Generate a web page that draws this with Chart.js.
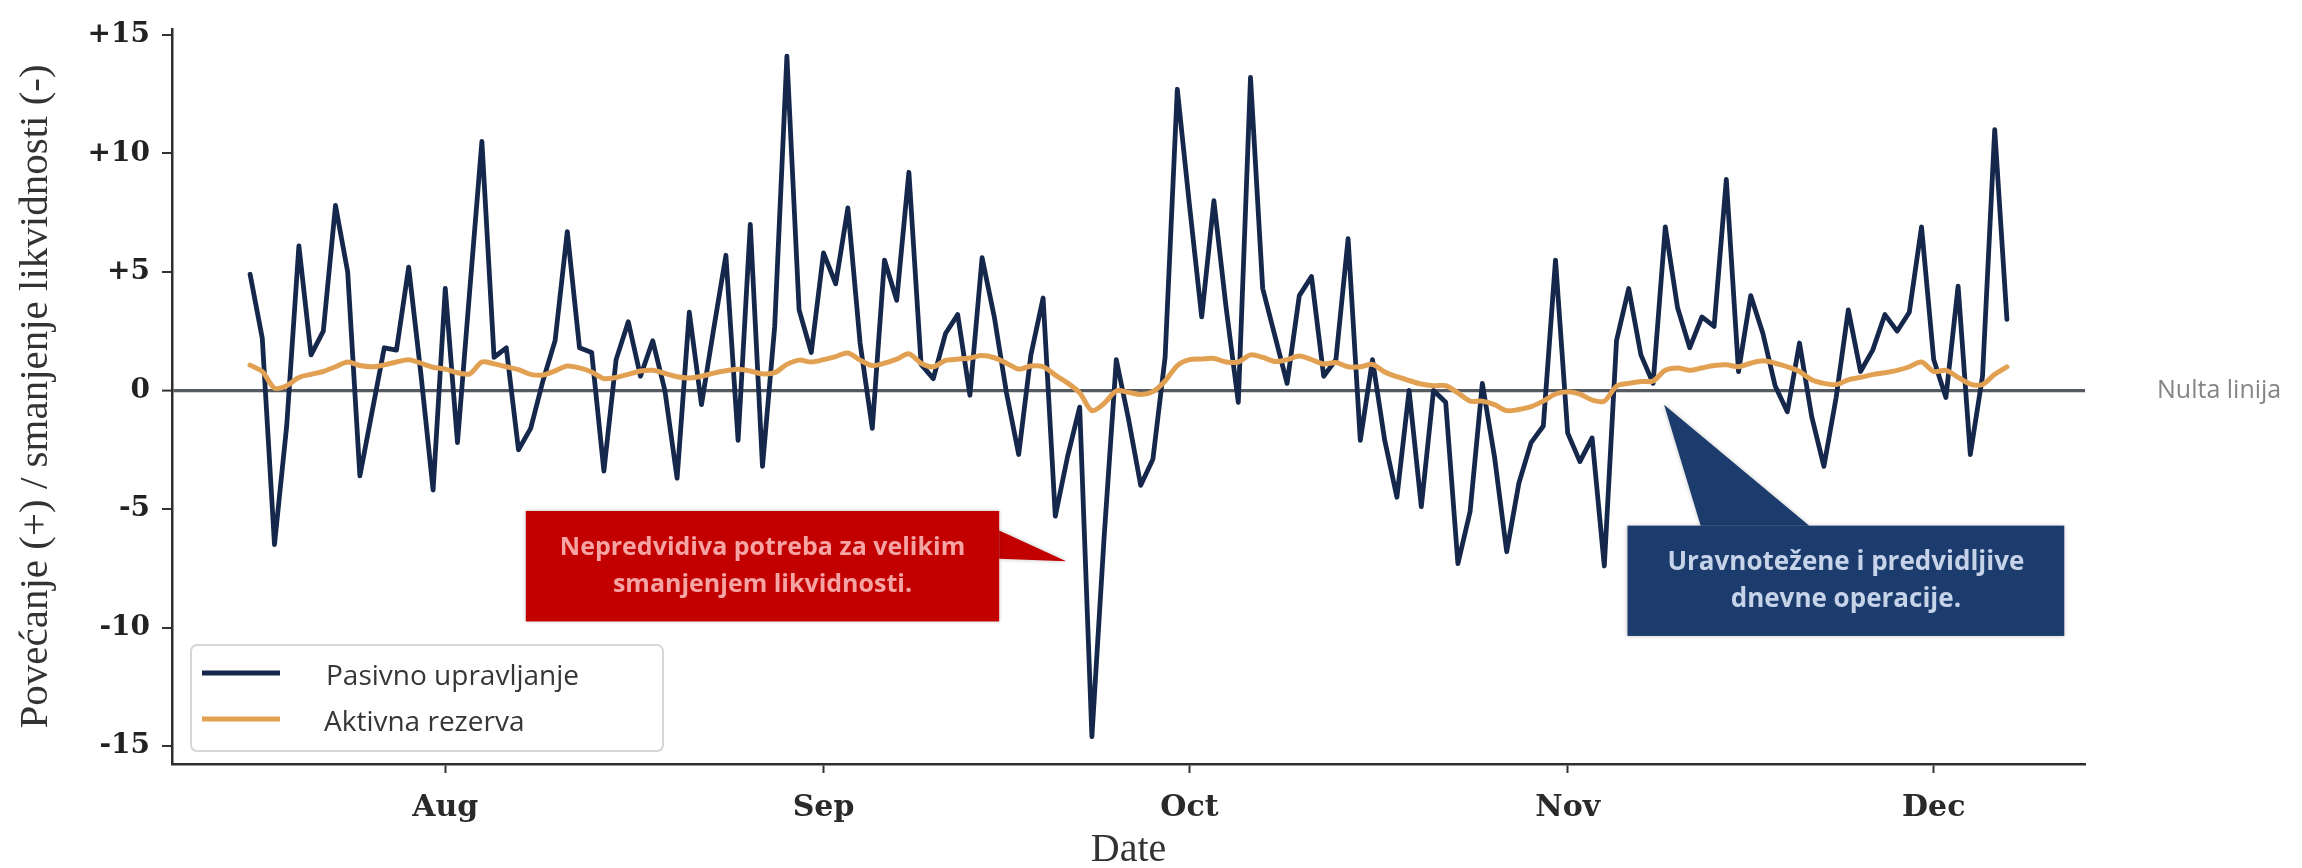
<!DOCTYPE html>
<html>
<head>
<meta charset="utf-8">
<script src="https://cdn.jsdelivr.net/npm/chart.js@4.4.1/dist/chart.umd.min.js"></script>
<style>
    html, body { margin: 0; padding: 0; background: #fff; }
    #wrap { width: 2302px; height: 868px; position: relative; }
</style>
</head>
<body>
<div id="wrap"><canvas id="liquidityChart" width="2302" height="868"></canvas></div>
<script>
// Prvi dan serije: 16. jul (broj dana od 1. jula)
const firstDay = 15;
const monthTicks = [31, 62, 92, 123, 153];
const monthLabels = ['Aug', 'Sep', 'Oct', 'Nov', 'Dec'];
const yTicks = [-15, -10, -5, 0, 5, 10, 15];

// Dnevne promjene likvidnosti
const pasivno = [
    4.9, 2.2, -6.5, -1.5, 6.1, 1.5, 2.5, 7.8, 5.0, -3.6,
    -0.9, 1.8, 1.7, 5.2, 0.7, -4.2, 4.3, -2.2, 4.2, 10.5,
    1.4, 1.8, -2.5, -1.6, 0.4, 2.1, 6.7, 1.8, 1.6, -3.4,
    1.3, 2.9, 0.6, 2.1, 0.0, -3.7, 3.3, -0.6, 2.6, 5.7,
    -2.1, 7.0, -3.2, 2.7, 14.1, 3.4, 1.6, 5.8, 4.5, 7.7,
    2.0, -1.6, 5.5, 3.8, 9.2, 1.1, 0.5, 2.4, 3.2, -0.2,
    5.6, 3.1, -0.1, -2.7, 1.5, 3.9, -5.3, -2.8, -0.7, -14.6,
    -6.2, 1.3, -1.2, -4.0, -2.9, 1.4, 12.7, 7.8, 3.1, 8.0,
    3.5, -0.5, 13.2, 4.3, 2.3, 0.3, 4.0, 4.8, 0.6, 1.3,
    6.4, -2.1, 1.3, -2.1, -4.5, 0.0, -4.9, 0.0, -0.5, -7.3,
    -5.1, 0.3, -2.8, -6.8, -3.9, -2.2, -1.5, 5.5, -1.8, -3.0,
    -2.0, -7.4, 2.1, 4.3, 1.5, 0.3, 6.9, 3.5, 1.8, 3.1,
    2.7, 8.9, 0.8, 4.0, 2.4, 0.2, -0.9, 2.0, -1.1, -3.2,
    -0.3, 3.4, 0.8, 1.7, 3.2, 2.5, 3.3, 6.9, 1.3, -0.3,
    4.4, -2.7, 0.6, 11.0, 3.0
];

const aktivna = [
    1.07, 0.8, 0.1, 0.2, 0.55, 0.68, 0.8, 1.0, 1.2, 1.05,
    1.0, 1.08, 1.2, 1.3, 1.15, 0.98, 0.9, 0.75, 0.7, 1.2,
    1.12, 1.0, 0.88, 0.68, 0.65, 0.83, 1.03, 0.95, 0.78, 0.5,
    0.55, 0.68, 0.82, 0.85, 0.72, 0.58, 0.53, 0.6, 0.73, 0.83,
    0.9, 0.82, 0.7, 0.75, 1.1, 1.28, 1.2, 1.3, 1.43, 1.58,
    1.28, 1.05, 1.15, 1.32, 1.55, 1.15, 1.0, 1.27, 1.32, 1.37,
    1.47, 1.38, 1.15, 0.9, 1.03, 1.0, 0.65, 0.32, -0.1, -0.85,
    -0.55, -0.02, -0.08, -0.17, -0.05, 0.4, 1.05, 1.3, 1.33, 1.35,
    1.2, 1.2, 1.5, 1.4, 1.22, 1.3, 1.45, 1.3, 1.12, 1.18,
    1.0, 1.0, 1.1, 0.78, 0.58, 0.42, 0.27, 0.2, 0.2, -0.1,
    -0.45, -0.45, -0.6, -0.85, -0.8, -0.68, -0.45, -0.15, -0.05, -0.15,
    -0.4, -0.45, 0.18, 0.3, 0.38, 0.4, 0.85, 0.95, 0.85, 0.95,
    1.05, 1.08, 1.0, 1.15, 1.25, 1.15, 1.0, 0.8, 0.45, 0.3,
    0.25, 0.45, 0.55, 0.67, 0.75, 0.85, 1.0, 1.2, 0.8, 0.85,
    0.55, 0.27, 0.25, 0.68, 1.0
];

const toPoints = (values) => values.map((v, i) => ({ x: firstDay + i, y: v }));

// Oblačići s komentarima (u jedinicama osa: dani / vrijednost)
const callouts = [
    {
        lines: ['Nepredvidiva potreba za velikim', 'smanjenjem likvidnosti.'],
        box: { x1: 37.6, x2: 76.4, y1: -5.08, y2: -9.74 },
        arrow: [[76.4, -5.9], [81.9, -7.2], [76.4, -7.1]],
        fill: '#c20000',
        text: '#f5a3a3',
        size: 25,
    },
    {
        lines: ['Uravnotežene i predvidljive', 'dnevne operacije.'],
        box: { x1: 127.9, x2: 163.7, y1: -5.7, y2: -10.35 },
        arrow: [[133.9, -5.7], [130.9, -0.6], [142.8, -5.7]],
        fill: '#1c3c6d',
        text: '#c6d3e9',
        size: 26,
    },
];

const calloutPlugin = {
    id: 'callouts',
    afterDatasetsDraw(chart) {
        const { ctx, scales: { x, y } } = chart;
        ctx.save();
        callouts.forEach((c) => {
            const left = x.getPixelForValue(c.box.x1);
            const right = x.getPixelForValue(c.box.x2);
            const top = y.getPixelForValue(c.box.y1);
            const bottom = y.getPixelForValue(c.box.y2);
            ctx.shadowColor = 'rgba(0,0,0,0.25)';
            ctx.shadowBlur = 4;
            ctx.fillStyle = c.fill;
            ctx.beginPath();
            c.arrow.forEach(([ax, ay], k) => {
                const px = x.getPixelForValue(ax);
                const py = y.getPixelForValue(ay);
                if (k === 0) ctx.moveTo(px, py);
                else ctx.lineTo(px, py);
            });
            ctx.closePath();
            ctx.fill();
            ctx.fillRect(left, top, right - left, bottom - top);
            ctx.shadowBlur = 0;
            ctx.fillStyle = c.text;
            ctx.font = `bold ${c.size}px "Open Sans"`;
            ctx.textAlign = 'center';
            ctx.textBaseline = 'middle';
            const cx = (left + right) / 2;
            const cy = (top + bottom) / 2;
            ctx.fillText(c.lines[0], cx, cy - 18);
            ctx.fillText(c.lines[1], cx, cy + 19);
        });
        ctx.restore();
    },
};

// Legenda u donjem lijevom uglu i natpis nulte linije
const legendPlugin = {
    id: 'boxLegend',
    afterDraw(chart) {
        const { ctx, chartArea, scales: { y } } = chart;
        ctx.save();
        const bx = chartArea.left + 19;
        const by = 645;
        const bw = 472;
        const bh = 106;
        ctx.fillStyle = 'rgba(255,255,255,0.85)';
        ctx.strokeStyle = '#d6d6d6';
        ctx.lineWidth = 2;
        ctx.beginPath();
        ctx.roundRect(bx, by, bw, bh, 6);
        ctx.fill();
        ctx.stroke();

        ctx.font = '28px "Open Sans"';
        ctx.textBaseline = 'middle';
        ctx.textAlign = 'left';
        const rows = [673, 719];
        const textX = [bx + 135, bx + 133];
        chart.data.datasets.forEach((ds, i) => {
            ctx.strokeStyle = ds.borderColor;
            ctx.lineWidth = 5;
            ctx.beginPath();
            ctx.moveTo(bx + 11, rows[i]);
            ctx.lineTo(bx + 89, rows[i]);
            ctx.stroke();
            ctx.fillStyle = '#363636';
            ctx.fillText(ds.label, textX[i], rows[i] + 4);
        });

        const zy = y.getPixelForValue(0);
        ctx.fillStyle = '#858585';
        ctx.font = '25px "Open Sans"';
        ctx.fillText('Nulta linija', chartArea.right + 72, zy);
        ctx.restore();
    },
};

const ctx = document.getElementById('liquidityChart').getContext('2d');

new Chart(ctx, {
    type: 'line',
    data: {
        datasets: [
            {
                label: 'Pasivno upravljanje',
                data: toPoints(pasivno),
                borderColor: '#15284b',
                borderWidth: 4.8,
                pointRadius: 0,
                tension: 0,
                borderJoinStyle: 'round',
                borderCapStyle: 'round',
                order: 2,
            },
            {
                label: 'Aktivna rezerva',
                data: toPoints(aktivna),
                borderColor: '#e2a152',
                borderWidth: 5,
                pointRadius: 0,
                tension: 0.3,
                borderJoinStyle: 'round',
                borderCapStyle: 'round',
                order: 1,
            },
        ],
    },
    options: {
        responsive: false,
        animation: false,
        layout: {
            padding: { top: 16, right: 217, bottom: 0, left: 0 },
        },
        plugins: {
            legend: { display: false },
            tooltip: { enabled: false },
        },
        scales: {
            x: {
                type: 'linear',
                min: firstDay - 6.4,
                max: firstDay + 150.4,
                afterBuildTicks: (scale) => {
                    scale.ticks = monthTicks.map((v) => ({ value: v }));
                },
                afterFit: (scale) => {
                    scale.height = 104;
                },
                ticks: {
                    callback: (v) => monthLabels[monthTicks.indexOf(v)],
                    font: { family: 'DejaVu Serif', size: 30, weight: 'bold' },
                    color: '#2a2a2a',
                    padding: 17,
                    maxRotation: 0,
                },
                grid: {
                    drawOnChartArea: false,
                    drawTicks: true,
                    tickLength: 9,
                    tickColor: '#333',
                    tickWidth: 2,
                },
                border: { display: true, color: '#2e2e2e', width: 2.5 },
                title: {
                    display: true,
                    text: 'Date',
                    font: { family: 'Liberation Serif', size: 40 },
                    color: '#333',
                    padding: { top: 0, bottom: -6 },
                },
            },
            y: {
                min: -15.75,
                max: 15.25,
                afterBuildTicks: (scale) => {
                    scale.ticks = yTicks.map((v) => ({ value: v }));
                },
                afterFit: (scale) => {
                    scale.width = 172;
                },
                ticks: {
                    callback: (v) => (v > 0 ? '+' + v : String(v)),
                    font: { family: 'DejaVu Serif', size: 28, weight: 'bold' },
                    color: '#222',
                    padding: 12,
                },
                grid: {
                    drawOnChartArea: true,
                    drawTicks: true,
                    tickLength: 10,
                    tickColor: '#333',
                    tickWidth: 2,
                    color: (c) => (c.tick && c.tick.value === 0 ? '#565a61' : 'rgba(0,0,0,0)'),
                    lineWidth: (c) => (c.tick && c.tick.value === 0 ? 3.2 : 0),
                },
                border: { display: true, color: '#2e2e2e', width: 2.5 },
                title: {
                    display: true,
                    text: 'Povećanje (+) / smanjenje likvidnosti (-)',
                    font: { family: 'Liberation Serif', size: 41 },
                    color: '#333',
                    padding: { top: 12, bottom: 0 },
                },
            },
        },
    },
    plugins: [calloutPlugin, legendPlugin],
});
</script>
</body>
</html>
